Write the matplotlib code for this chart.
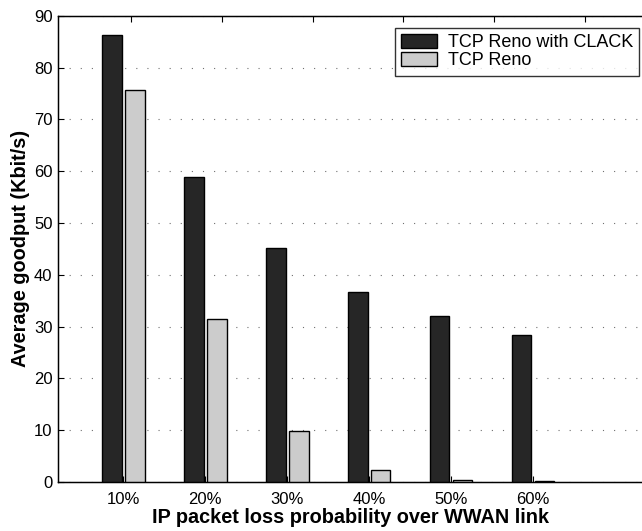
import numpy as np
import matplotlib
matplotlib.use("Agg")
import matplotlib.pyplot as plt

plt.rcParams['font.family'] = ['Liberation Sans', 'DejaVu Sans']

loss = ['10%', '20%', '30%', '40%', '50%', '60%']
clack = [86.3, 58.9, 45.2, 36.7, 32.1, 28.4]
reno = [75.6, 31.4, 9.9, 2.4, 0.3, 0.15]

x = np.arange(1, len(loss) + 1)
w = 0.24

fig = plt.figure(figsize=(6.42, 5.31), dpi=100)
ax = fig.add_axes([0.0903, 0.0923, 0.912, 0.878])

ax.bar(x - 0.14, clack, w, color='#262626', edgecolor='black', linewidth=1, label='TCP Reno with CLACK', zorder=3)
ax.bar(x + 0.14, reno, w, color='#cccccc', edgecolor='black', linewidth=1, label='TCP Reno', zorder=3)

ax.set_xlim(0.2, 7.35)
ax.set_ylim(0, 90)
ax.set_xticks(x)
ax.set_xticklabels(loss)
ax.set_yticks(range(0, 91, 10))
ax.tick_params(direction='in', length=4, labelsize=12, width=0.8)
ax.tick_params(axis='x', pad=7)
ax.tick_params(axis='y', pad=4)
ax.yaxis.grid(True, linestyle=(0, (1, 9)), color='#707070', linewidth=0.8)
ax.set_axisbelow(True)
for s in ax.spines.values():
    s.set_linewidth(1.0)

ax.set_xlabel('IP packet loss probability over WWAN link', fontsize=14.3, fontweight='bold', labelpad=1)
ax.set_ylabel('Average goodput (Kbit/s)', fontsize=14.3, fontweight='bold', labelpad=3)

# top tick marks from the overlaid axis
top = ax.twiny()
top.set_xlim(0.2, 6.64)
top.set_xticks(range(1, 7))
top.set_xticklabels([])
top.tick_params(direction='in', length=4, width=0.8)

leg = ax.legend(loc='upper right', fontsize=13, frameon=True, fancybox=False,
                edgecolor='black', borderpad=0.35, handlelength=2.0, handleheight=0.8,
                handletextpad=0.6, labelspacing=0.05, borderaxespad=0,
                bbox_to_anchor=(0.993, 0.974))
leg.get_frame().set_linewidth(1.0)

fig.savefig('out.png', dpi=100)
